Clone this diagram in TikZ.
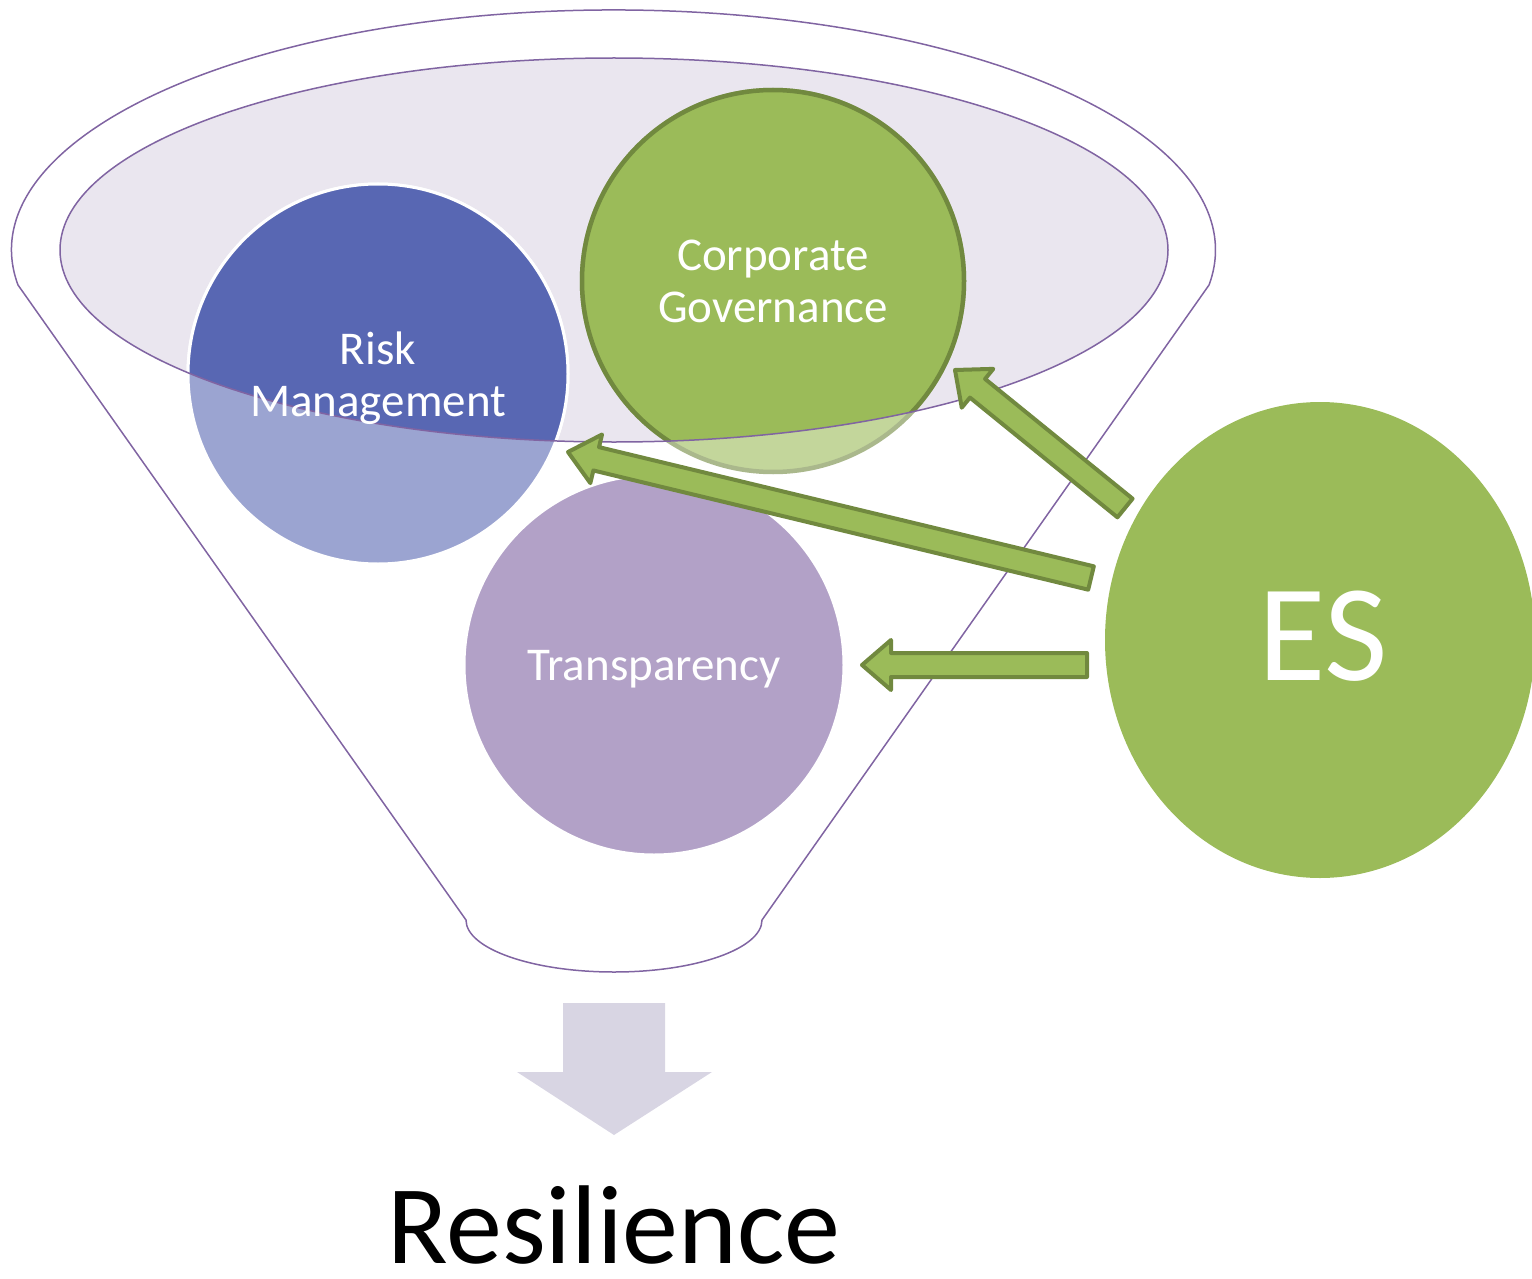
\documentclass[tikz,border=0pt]{standalone}
\usepackage{fontspec}
\setmainfont{Carlito}
\usetikzlibrary{calc}
\definecolor{funnelline}{HTML}{8064A2}
\definecolor{lav}{HTML}{EAE6EF}
\definecolor{rmdark}{HTML}{5867B3}
\definecolor{rmlight}{HTML}{9BA4D1}
\definecolor{cggreen}{HTML}{9BBB59}
\definecolor{cglight}{HTML}{C3D69B}
\definecolor{cgline}{HTML}{71893F}
\definecolor{cglinelight}{HTML}{AAB88C}
\definecolor{trpurple}{HTML}{B2A1C7}
\definecolor{downarr}{HTML}{D8D5E3}
\tikzset{
  funnel/.style={draw=funnelline, line width=1.5pt},
  esarrow/.style={fill=cggreen, draw=cgline, line width=4pt, line join=round},
  lbl/.style={text=white, align=center, inner sep=0pt},
}
\newcommand\blkarrow[2]{%
  \coordinate (hb) at ($(#2)!29pt!(#1)$);
  \draw[esarrow] ($(#1)!12pt!90:(#2)$) -- ($(hb)!12pt!90:(#2)$) -- ($(hb)!25pt!90:(#2)$) -- (#2)
    -- ($(hb)!25pt!-90:(#2)$) -- ($(hb)!12pt!-90:(#2)$) -- ($(#1)!12pt!-90:(#2)$) -- cycle;}
\begin{document}
\begin{tikzpicture}[x=1pt,y=-1pt]
\useasboundingbox (0,0) rectangle (1532,1279);
% outer funnel
\draw[funnel] (18,285) arc[start angle=171.6, end angle=368.4, x radius=602, y radius=240]
  -- (762,920) arc[start angle=0, end angle=180, x radius=148, y radius=52] -- cycle;
% inner ellipse fill
\fill[lav] (614,250) ellipse[x radius=554, y radius=192];
% circles, light (outside the ellipse)
\path[fill=trpurple, draw=white, line width=3pt] (654,665) circle[radius=190];
\path[fill=rmlight, draw=white, line width=3pt] (378,374) circle[radius=190];
\path[fill=cglight, draw=cglinelight, line width=4.5pt] (773,281) circle[radius=191];
% circles, full colour (inside the ellipse)
\begin{scope}
  \clip (614,250) ellipse[x radius=554, y radius=192];
  \path[fill=rmdark, draw=white, line width=3pt] (378,374) circle[radius=190];
  \path[fill=cggreen, draw=cgline, line width=4.5pt] (773,281) circle[radius=191];
\end{scope}
\draw[funnel] (614,250) ellipse[x radius=554, y radius=192];
% labels
\node[lbl, font=\fontsize{47}{52}\selectfont] (RM) at (378,378) {Risk\\Management};
\node[lbl, font=\fontsize{47}{52}\selectfont] (CG) at (773,281) {Corporate\\Governance};
\node[lbl, font=\fontsize{47}{52}\selectfont, anchor=base] (TR) at (654,680) {Transparency};
% ES
\fill[cggreen] (1320,640) ellipse[x radius=215, y radius=238];
\node[lbl, font=\fontsize{138}{140}\selectfont, anchor=base] (ES) at (1323,680) {ES};
% arrows from ES
\coordinate (a1s) at (1125,508); \coordinate (a1e) at (955,370);
\coordinate (a2s) at (1091,578); \coordinate (a2e) at (568,452);
\coordinate (a3s) at (1087,665); \coordinate (a3e) at (862,665);
\blkarrow{a1s}{a1e}
\blkarrow{a2s}{a2e}
\blkarrow{a3s}{a3e}
% down arrow
\fill[downarr] (563,1003) -- (665,1003) -- (665,1072) -- (712,1072) -- (614,1135) -- (517,1072) -- (563,1072) -- cycle;
\node[font=\fontsize{112}{120}\selectfont, anchor=base, inner sep=0pt, text depth=0pt] (RES) at (614,1263) {Resilience};
\end{tikzpicture}
\end{document}
